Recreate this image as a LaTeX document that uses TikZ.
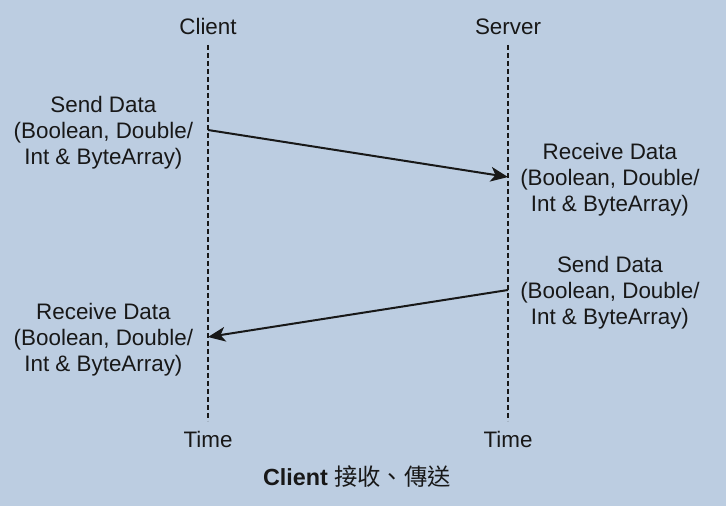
\documentclass[tikz,border=0pt]{standalone}
\usepackage{fontspec}
\setmainfont{Liberation Sans}
\newfontfamily\cjkfont{Noto Sans CJK TC}
\usepackage{tikz}
\usetikzlibrary{arrows.meta, positioning}
\definecolor{bgblue}{RGB}{188,205,225}
\definecolor{ink}{RGB}{24,24,24}

\begin{document}
\begin{tikzpicture}[
  x=0.75pt, y=-0.75pt,
  lbl/.style={align=center, inner sep=0pt, text=ink,
              font=\fontsize{16.8}{19.6}\selectfont},
  life/.style={draw=ink, line width=1.5pt, dash pattern=on 3.75pt off 2.25pt},
  arr/.style={-{Stealth[length=13pt, width=11pt, inset=3.5pt]}, line width=1.5pt, draw=ink},
]
  \fill[bgblue] (0,0) rectangle (726,506);
  \useasboundingbox (0,0) rectangle (726,506);

  % lifelines
  \node[lbl, anchor=base] (client) at (208,35)  {Client};
  \node[lbl, anchor=base] (server) at (508,35)  {Server};
  \node[lbl, anchor=base] (ctime)  at (208,448) {Time};
  \node[lbl, anchor=base] (stime)  at (508,448) {Time};
  \coordinate (ctop) at (208,45);
  \coordinate (cbot) at (208,421);
  \coordinate (stop) at (508,45);
  \coordinate (sbot) at (508,421);
  \draw[life] (ctop) -- (cbot);
  \draw[life] (stop) -- (sbot);

  % message points
  \coordinate (csend) at (208,130);
  \coordinate (srecv) at (508,177);
  \coordinate (ssend) at (508,290);
  \coordinate (crecv) at (208,337);

  \node[lbl, left=11pt of csend, yshift=-2pt]  (csendtxt) {Send Data\\(Boolean, Double/\\Int \& ByteArray)};
  \node[lbl, right=9pt of srecv, yshift=-2pt]  (srecvtxt) {Receive Data\\(Boolean, Double/\\Int \& ByteArray)};
  \node[lbl, right=9pt of ssend, yshift=-2pt]  (ssendtxt) {Send Data\\(Boolean, Double/\\Int \& ByteArray)};
  \node[lbl, left=11pt of crecv, yshift=-2pt]  (crecvtxt) {Receive Data\\(Boolean, Double/\\Int \& ByteArray)};

  \draw[arr] (csend) -- (srecv);
  \draw[arr] (ssend) -- (crecv);

  \node[lbl, anchor=base, font=\fontsize{17.5}{20}\selectfont] (caption) at (357,486)
    {\textbf{Client} {\cjkfont 接收、傳送}};
\end{tikzpicture}
\end{document}
